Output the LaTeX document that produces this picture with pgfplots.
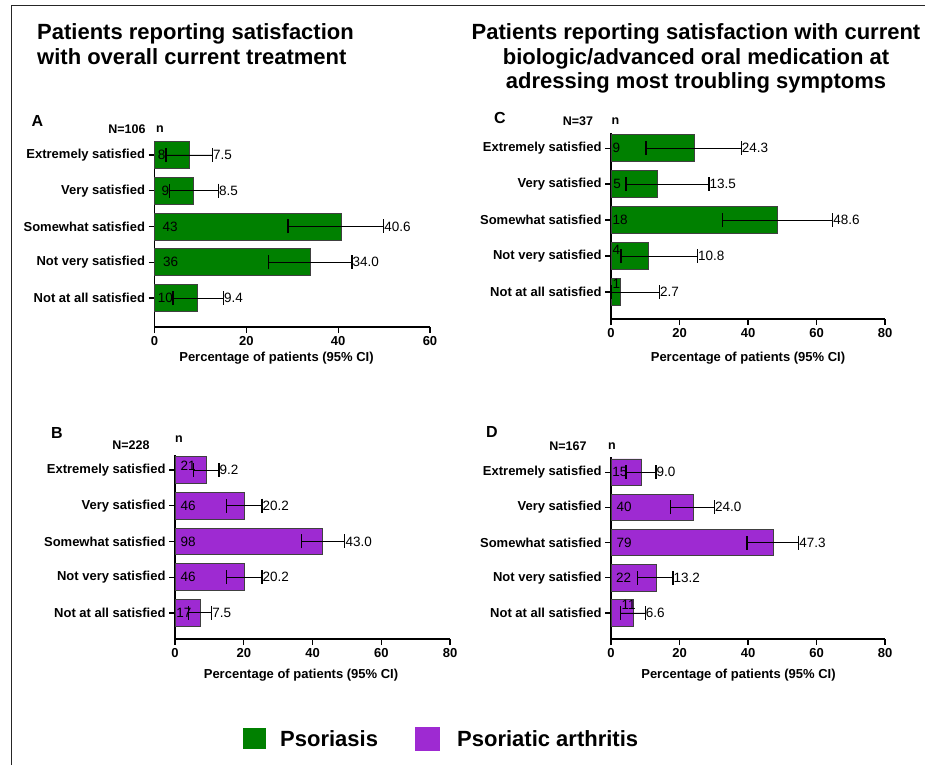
\documentclass[border=0pt]{standalone}
\usepackage{fontspec}
\setmainfont{Liberation Sans}
\usepackage{pgfplots}
\pgfplotsset{compat=1.18}
\usepackage{pgfplotstable}

\definecolor{psogreen}{RGB}{0,128,0}
\definecolor{psapurple}{RGB}{158,42,210}

\pgfplotstableread{
y pct lo hi n nx ny
4 7.5 2.5 12.6 8 0.6 4
3 8.5 3.3 13.9 9 1.4 3
2 40.6 29.1 49.9 43 1.6 2
1 34.0 24.9 43.0 36 1.7 1
0 9.4 4.0 15.0 10 0.6 0
}\tabA

\pgfplotstableread{
y pct lo hi n nx ny
4 9.2 5.4 12.8 21 1.45 4.12
3 20.2 15.0 25.3 46 1.45 3
2 43.0 36.7 49.4 98 1.45 2
1 20.2 15.0 25.3 46 1.45 1
0 7.5 4.0 10.7 17 0.2 0
}\tabB

\pgfplotstableread{
y pct lo hi n nx ny
4 24.3 10.2 38.0 9 0.3 4
3 13.5 4.4 28.6 5 0.5 3
2 48.6 32.6 64.7 18 0.3 2
1 10.8 2.9 25.2 4 0.3 1.16
0 2.7 0.1 14.1 1 0.3 0.23
}\tabC

\pgfplotstableread{
y pct lo hi n nx ny
4 9.0 4.4 13.1 15 0.2 4
3 24.0 17.3 30.2 40 1.45 3
2 47.3 39.7 54.8 79 1.45 2
1 13.2 7.8 18.1 22 1.3 1
0 6.6 2.8 10.0 11 2.9 0.23
}\tabD

\newcommand{\lblfont}{\bfseries\fontsize{13}{15}\selectfont}
\newcommand{\numfont}{\fontsize{13.5}{15}\selectfont}

\pgfplotsset{
  panel/.style={
    scale only axis,
    anchor=south west,
    axis x line*=bottom, axis y line*=left,
    xmin=0,
    ytick={0,1,2,3,4},
    yticklabels={Not at all satisfied,Not very satisfied,Somewhat satisfied,Very satisfied,Extremely satisfied},
    tick align=outside,
    major tick length=6pt,
    axis line style={line width=1.3pt, black},
    every tick/.style={black, line width=1.2pt},
    tick label style={font=\lblfont, text=black},
    /pgf/number format/assume math mode=true,
    xlabel={Percentage of patients (95\% CI)},
    label style={font=\lblfont},
    clip=false,
  },
  bars/.style={
    xbar, bar width=0.75, fill=#1, draw=black!75, line width=0.8pt,
    error bars/.cd, x dir=both, x explicit,
    error mark=|,
    error bar style={black, line width=0.9pt},
    error mark options={black, mark size=7pt, line width=1.3pt},
  },
  vals/.style={
    draw=none, mark=none, nodes near coords, point meta=explicit symbolic,
    every node near coord/.style={anchor=west, inner sep=0.5pt, font=\numfont, text=black},
  },
}

\newcommand{\panelplots}[2]{%
  \addplot[bars=#2] table[x=pct, y=y,
     x error plus expr=\thisrow{hi}-\thisrow{pct},
     x error minus expr=\thisrow{pct}-\thisrow{lo}] {#1};
  \addplot[vals] table[x=hi, y=y, meta=pct] {#1};
  \addplot[vals] table[x=nx, y=ny, meta=n] {#1};
}

\begin{document}
\begin{tikzpicture}
\useasboundingbox (0,0) rectangle (925pt,-765pt);
\draw[line width=1pt, black!85] (11pt,-765pt) -- (11pt,-6pt) -- (925pt,-6pt);

% titles
\begin{scope}[every node/.style={font=\bfseries\fontsize{22}{24}\selectfont, inner sep=0pt}]
\node[anchor=base west] at (37pt,-40pt) {Patients reporting satisfaction};
\node[anchor=base west] at (37pt,-64.5pt) {with overall current treatment};
\node[anchor=base] at (696pt,-40pt) {Patients reporting satisfaction with current};
\node[anchor=base] at (696pt,-64.5pt) {biologic/advanced oral medication at};
\node[anchor=base] at (696pt,-89pt) {adressing most troubling symptoms};
\end{scope}

% panel A
\begin{axis}[panel, at={(154.5pt,-327pt)}, width=275.5pt, height=186pt,
  xmax=60, ymin=-0.81, ymax=4.39, xtick={0,20,40,60},
  xlabel style={at={(axis description cs:0.5,0)}, anchor=center, xshift=-15.75pt, yshift=-31pt}]
  \panelplots{\tabA}{psogreen}
\end{axis}

% panel C
\begin{axis}[panel, at={(611pt,-319pt)}, width=274pt, height=186pt,
  xmax=80, ymin=-0.75, ymax=4.42, xtick={0,20,40,60,80},
  xlabel style={at={(axis description cs:0.5,0)}, anchor=center, yshift=-39pt}]
  \panelplots{\tabC}{psogreen}
\end{axis}

% panel B
\begin{axis}[panel, at={(175pt,-639pt)}, width=275pt, height=184pt,
  xmax=80, ymin=-0.73, ymax=4.42, xtick={0,20,40,60,80},
  xlabel style={at={(axis description cs:0.5,0)}, anchor=center, xshift=-11.5pt, yshift=-36pt}]
  \panelplots{\tabB}{psapurple}
\end{axis}

% panel D
\begin{axis}[panel, at={(611pt,-639pt)}, width=274pt, height=182pt,
  xmax=80, ymin=-0.74, ymax=4.43, xtick={0,20,40,60,80},
  xlabel style={at={(axis description cs:0.5,0)}, anchor=center, xshift=-9.5pt, yshift=-36pt}]
  \panelplots{\tabD}{psapurple}
\end{axis}

% panel letters and N / n headers
\begin{scope}[every node/.style={inner sep=0pt, anchor=center}]
\node[font=\bfseries\fontsize{16}{18}\selectfont] at (37.5pt,-121pt) {A};
\node[font=\bfseries\fontsize{16}{18}\selectfont] at (57pt,-433pt) {B};
\node[font=\bfseries\fontsize{16}{18}\selectfont] at (500pt,-118pt) {C};
\node[font=\bfseries\fontsize{16}{18}\selectfont] at (492pt,-432pt) {D};
\node[font=\bfseries\fontsize{12.5}{14}\selectfont] at (127pt,-129pt) {N=106};
\node[font=\bfseries\fontsize{12.5}{14}\selectfont] at (160pt,-129pt) {n};
\node[font=\bfseries\fontsize{12.5}{14}\selectfont] at (131pt,-445pt) {N=228};
\node[font=\bfseries\fontsize{12.5}{14}\selectfont] at (179pt,-439pt) {n};
\node[font=\bfseries\fontsize{12.5}{14}\selectfont] at (578pt,-121pt) {N=37};
\node[font=\bfseries\fontsize{12.5}{14}\selectfont] at (615.5pt,-121pt) {n};
\node[font=\bfseries\fontsize{12.5}{14}\selectfont] at (568pt,-446pt) {N=167};
\node[font=\bfseries\fontsize{12.5}{14}\selectfont] at (612pt,-446pt) {n};
\end{scope}

% legend
\fill[psogreen] (243pt,-728pt) rectangle (266pt,-749pt);
\node[anchor=west, inner sep=0pt, font=\bfseries\fontsize{22}{24}\selectfont] at (280pt,-739pt) {Psoriasis};
\fill[psapurple] (415pt,-727pt) rectangle (440pt,-751pt);
\node[anchor=west, inner sep=0pt, font=\bfseries\fontsize{22}{24}\selectfont] at (457pt,-739pt) {Psoriatic arthritis};
\end{tikzpicture}
\end{document}
